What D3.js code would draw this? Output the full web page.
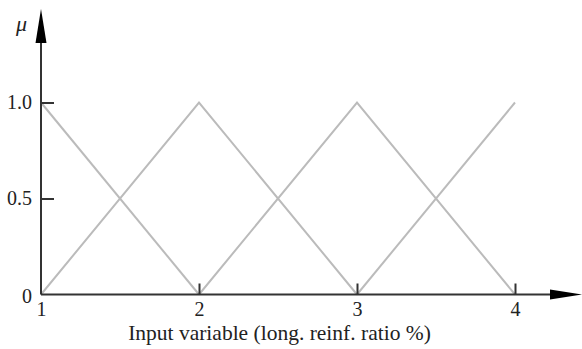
<!DOCTYPE html>
<html>
<head>
<meta charset="utf-8">
<script src="https://cdn.jsdelivr.net/npm/d3@7"></script>
<style>
  html, body { margin: 0; padding: 0; background: #fff; }
  svg { display: block; font-family: "Liberation Serif", "Times New Roman", serif; }
</style>
</head>
<body>
<svg id="chart" width="582" height="349"></svg>
<script>
// Membership functions: breakpoints (x) and grades (mu) of each fuzzy set
const xBreaks = [1, 2, 3, 4];
const setLow    = [1, 0, null, null];
const setMid1   = [0, 1, 0, null];
const setMid2   = [null, 0, 1, 0];
const setHigh   = [null, null, 0, 1];
const seriesList = [setLow, setMid1, setMid2, setHigh];

const xTicks = [1, 2, 3, 4];
const yTicks = [0, 0.5, 1.0];
const yTickLabels = ["0", "0.5", "1.0"];
const xTitle = "Input variable (long. reinf. ratio %)";
const yTitle = "μ";

const svg = d3.select("#chart");
const x = d3.scaleLinear().domain([1, 4]).range([41, 515]);
const y = d3.scaleLinear().domain([0, 1]).range([294.5, 102.5]);

const axisColor = "#333";
const lineColor = "#bbbbbb";
const textColor = "#222";

// membership lines
const line = d3.line()
  .defined(d => d.mu !== null)
  .x(d => x(d.x))
  .y(d => y(d.mu));

seriesList.forEach(s => {
  const pts = xBreaks.map((xv, i) => ({ x: xv, mu: s[i] }));
  svg.append("path")
    .datum(pts)
    .attr("d", line)
    .attr("fill", "none")
    .attr("stroke", lineColor)
    .attr("stroke-width", 2);
});

// y axis ticks and labels
const yAxis = d3.axisLeft(y)
  .tickValues(yTicks)
  .tickFormat((d, i) => yTickLabels[i])
  .tickSizeInner(-13)
  .tickSizeOuter(0)
  .tickPadding(9);
const gy = svg.append("g").attr("transform", `translate(${x(1)},0)`).call(yAxis);
gy.select(".domain").remove();
gy.selectAll(".tick line").attr("stroke", axisColor).attr("stroke-width", 2)
  .filter(d => d === 0).remove();
gy.selectAll(".tick text")
  .attr("font-family", "Liberation Serif, serif")
  .attr("font-size", 20)
  .attr("fill", textColor)
  .attr("dy", d => d === 0 ? "0.42em" : "0.32em");

// x axis ticks and labels
const xAxis = d3.axisBottom(x)
  .tickValues(xTicks)
  .tickFormat(d3.format("d"))
  .tickSizeInner(-11)
  .tickSizeOuter(0)
  .tickPadding(7);
const gx = svg.append("g").attr("transform", `translate(0,${y(0)})`).call(xAxis);
gx.select(".domain").remove();
gx.selectAll(".tick line").attr("stroke", axisColor).attr("stroke-width", 2)
  .filter(d => d === 1).remove();
gx.selectAll(".tick text")
  .attr("font-family", "Liberation Serif, serif")
  .attr("font-size", 20)
  .attr("fill", textColor);

// axis lines with arrow heads
const x0 = x(1), y0 = y(0);
svg.append("line").attr("x1", x0).attr("y1", y0).attr("x2", x0).attr("y2", 40)
  .attr("stroke", axisColor).attr("stroke-width", 2);
svg.append("path")
  .attr("d", `M${x0},9 L${x0 - 5.5},43 L${x0 + 5.5},43 Z`)
  .attr("fill", "#000");
svg.append("line").attr("x1", x0).attr("y1", y0).attr("x2", 553).attr("y2", y0)
  .attr("stroke", axisColor).attr("stroke-width", 2);
svg.append("path")
  .attr("d", `M582,${y0} L550,${y0 - 5} L550,${y0 + 5} Z`)
  .attr("fill", "#000");

// titles
svg.append("text")
  .attr("x", 21.5).attr("y", 31)
  .attr("text-anchor", "middle")
  .attr("font-style", "italic")
  .attr("font-size", 22)
  .attr("fill", textColor)
  .text(yTitle);

svg.append("text")
  .attr("x", 279.5).attr("y", 340)
  .attr("text-anchor", "middle")
  .attr("font-size", 21.5)
  .attr("fill", textColor)
  .text(xTitle);
</script>
</body>
</html>
